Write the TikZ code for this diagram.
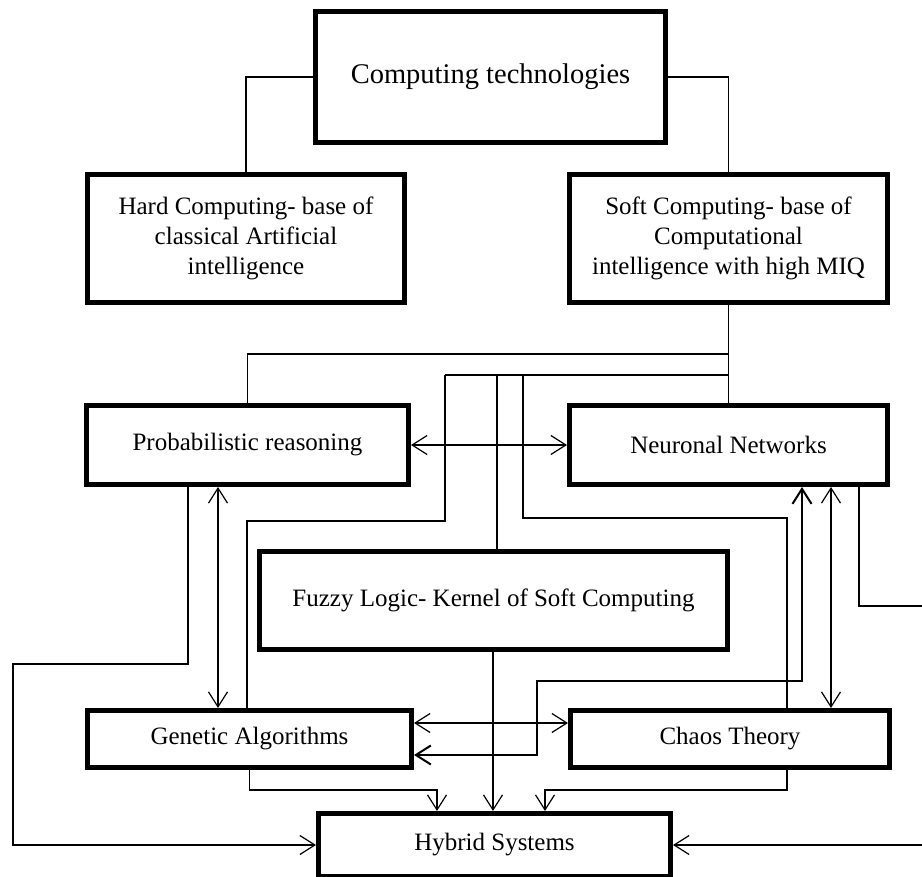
\documentclass[tikz,border=0pt]{standalone}
\usepackage{fontspec}
\setmainfont{Liberation Serif}
\usepackage{tikz}
\usetikzlibrary{calc,arrows.meta}

\begin{document}
\begin{tikzpicture}[x=1pt,y=-1pt]
                      \tikzstyle{box}=[rectangle,draw=black,line width=5pt,align=center,inner sep=0pt,font=\fontsize{25}{30}\selectfont]
                      \tikzstyle{link}=[draw=black,line width=1.2pt]
                      \tikzstyle{thick link}=[draw=black,line width=2pt]
                      \tikzset{>={Straight Barb[length=15pt,width=19pt]}}
                      \useasboundingbox (0,0) rectangle (922,877);
                      \node[box, minimum width=350pt, minimum height=131pt, font=\fontsize{28.5}{34}\selectfont] (ct) at (490.5,77) {Computing technologies};
                      \node[box, minimum width=317pt, minimum height=128pt] (hard) at (246,238.5) {Hard Computing- base of\\classical Artificial\\intelligence};
                      \node[box, minimum width=318pt, minimum height=128pt] (soft) at (728.5,238.5) {Soft Computing- base of\\Computational\\intelligence with high MIQ};
                      \node[box, minimum width=322pt, minimum height=79pt] (prob) at (247.5,445) {Probabilistic reasoning};
                      \node[box, minimum width=318pt, minimum height=79pt] (neur) at (728.5,445) {Neuronal Networks};
                      \node[box, minimum width=468pt, minimum height=98pt] (fuzzy) at (493.5,600.5) {Fuzzy Logic- Kernel of Soft Computing};
                      \node[box, minimum width=324pt, minimum height=57pt] (ga) at (249.5,739) {Genetic Algorithms};
                      \node[box, minimum width=319pt, minimum height=57pt] (chaos) at (730,739) {Chaos Theory};
                      \node[box, minimum width=352pt, minimum height=63pt] (hyb) at (494.5,845) {Hybrid Systems};
                      % tree from the top box
                      \draw[link] (ct.west) -| (hard.north);
                      \draw[link] (ct.east) -| (soft.north);
                      \draw[link] (soft.south) -- (neur.north);
                      \draw[link] (soft.south |- 0,354) -| (prob.north);
                      \draw[link] (soft.south |- 0,375) -- (445,375);
                      \draw[thick link] (445,375) |- (247,521) -- (ga.north -| 247,0);
                      \draw[thick link] (497,375) -- (fuzzy.north -| 497,0);
                      \draw[link] (523,375) |- (787,518) -- (chaos.north -| 787,0);
                      % links between the methods
                      \draw[link, <->] (prob.east) -- (neur.west);
                      \draw[link, <->] (prob.south -| 218,0) -- (ga.north -| 218,0);
                      \draw[link, <->] (ga.east |- 0,723) -- (chaos.west |- 0,723);
                      \draw[thick link, <->] (ga.east |- 0,755) -| (537,681) -| (neur.south -| 802,0);
                      \draw[link, <->] (neur.south -| 831,0) -- (chaos.north -| 831,0);
                      % into the hybrid systems
                      \draw[link, ->] (prob.south -| 188,0) |- (13,664) |- (hyb.west);
                      \draw[link, ->] (neur.south -| 859,0) |- (924,606) |- (hyb.east);
                      \draw[link, ->] (fuzzy.south -| 493,0) -- (hyb.north -| 493,0);
                      \draw[link, ->] (ga.south) |- (437,790) -- (hyb.north -| 437,0);
                      \draw[link, ->] (chaos.south -| 787,0) |- (545,790) -- (hyb.north -| 545,0);
                  \end{tikzpicture}
\end{document}
